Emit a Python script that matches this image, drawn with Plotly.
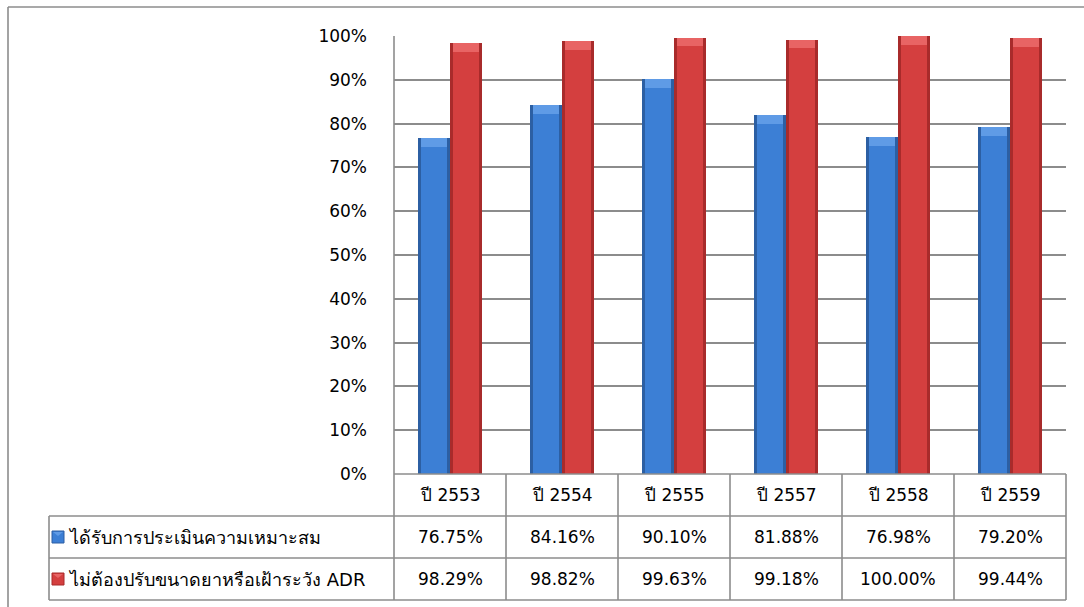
import plotly.graph_objects as go

# ---- data ----
years = ["ปี 2553", "ปี 2554", "ปี 2555", "ปี 2557", "ปี 2558", "ปี 2559"]
series_names = ["ได้รับการประเมินความเหมาะสม", "ไม่ต้องปรับขนาดยาหรือเฝ้าระวัง ADR"]
assessed = [76.75, 84.16, 90.10, 81.88, 76.98, 79.20]
no_adjust = [98.29, 98.82, 99.63, 99.18, 100.00, 99.44]
y_ticks = [0, 10, 20, 30, 40, 50, 60, 70, 80, 90, 100]

W, H = 1084, 607
FONT = "Tahoma, 'DejaVu Sans', sans-serif"
FS = 17
THAI_FS = 18
GRID = "#8c8c8c"


def px(x):
    return x / W


def py(y):
    return 1 - y / H


# plot area in pixels
PL, PR, PT, PB = 394, 1066, 36, 474
# table rows in pixels
ROW1_B, ROW2_B, ROW3_B = 516, 558, 600
TABLE_L = 49

x_idx = list(range(len(years)))
BW = 0.288          # bar width in category units
INSET = 0.026       # edge shading inset

styles = [
    # (offset, edge colour, body colour, cap colour)
    (-BW, "#2c5fa3", "#3c7fd5", "#5f9be6"),
    (0.0, "#a82b2b", "#d43f3f", "#e86464"),
]

fig = go.Figure()
for vals, name, (off, edge, body, cap) in zip([assessed, no_adjust], series_names, styles):
    fig.add_bar(x=x_idx, y=vals, offset=off, width=BW, marker=dict(color=edge, line=dict(width=0)),
                name=name, showlegend=False, hoverinfo="skip")
    fig.add_bar(x=x_idx, y=[v - 0.5 for v in vals], offset=off + INSET, width=BW - 2 * INSET,
                marker=dict(color=body, line=dict(width=0)), showlegend=False, hoverinfo="skip")
    fig.add_bar(x=x_idx, y=[2.0] * len(vals), base=[v - 2.0 for v in vals], offset=off + INSET,
                width=BW - 2 * INSET, marker=dict(color=cap, line=dict(width=0)),
                showlegend=False, hoverinfo="skip")

shapes = []
annotations = []


def hline(y, x0, x1):
    shapes.append(dict(type="line", xref="paper", yref="paper", x0=px(x0), x1=px(x1), y0=py(y), y1=py(y),
                       line=dict(color=GRID, width=1.6)))


def vline(x, y0, y1):
    shapes.append(dict(type="line", xref="paper", yref="paper", x0=px(x), x1=px(x), y0=py(y0), y1=py(y1),
                       line=dict(color=GRID, width=1.6)))


def label(x, y, text, anchor="center", size=FS):
    annotations.append(dict(x=px(x), y=py(y), xref="paper", yref="paper", text=text, showarrow=False,
                            xanchor=anchor, yanchor="middle",
                            font=dict(size=size, color="#000", family=FONT)))


# outer chart frame
hline(7, 8, W)
vline(8, 7, H)

# plot left edge and table grid
vline(PL, PT, ROW3_B)
vline(PR, PB, ROW3_B)
vline(TABLE_L, ROW1_B, ROW3_B)
hline(PB, PL, PR)
for yb in (ROW1_B, ROW2_B, ROW3_B):
    hline(yb, TABLE_L, PR)
cat_w = (PR - PL) / len(years)
for i in range(1, len(years)):
    vline(PL + i * cat_w, PB, ROW3_B)

# table text
row_centers = [(PB + ROW1_B) / 2, (ROW1_B + ROW2_B) / 2, (ROW2_B + ROW3_B) / 2]
for i, yr in enumerate(years):
    xc = PL + (i + 0.5) * cat_w
    label(xc, row_centers[0], yr)
    label(xc, row_centers[1], f"{assessed[i]:.2f}%")
    label(xc, row_centers[2], f"{no_adjust[i]:.2f}%")

# legend keys inside the table
for rc, name, (_, edge, body, cap) in zip(row_centers[1:], series_names, styles):
    shapes.append(dict(type="rect", xref="paper", yref="paper", x0=px(52), x1=px(64), y0=py(rc + 6),
                       y1=py(rc - 6), fillcolor=body, line=dict(color=edge, width=1)))
    shapes.append(dict(type="path", xref="paper", yref="paper",
                       path=f"M {px(53)},{py(rc - 5)} L {px(63)},{py(rc - 5)} L {px(58)},{py(rc - 1)} Z",
                       fillcolor=cap, line=dict(width=0)))
    label(66, rc, name, anchor="left", size=THAI_FS)

fig.update_layout(
    width=W, height=H, autosize=False,
    margin=dict(l=0, r=0, t=0, b=0, pad=0),
    paper_bgcolor="white", plot_bgcolor="white",
    barmode="overlay", bargap=0,
    font=dict(family=FONT, size=FS, color="#000"),
    xaxis=dict(domain=[px(PL), px(PR)], range=[-0.5, len(years) - 0.5], showticklabels=False,
               showgrid=False, zeroline=False, showline=False, fixedrange=True, automargin=False),
    yaxis=dict(domain=[py(PB), py(PT)], range=[0, 100], tickvals=y_ticks,
               ticktext=[f"{t}%" for t in y_ticks], showgrid=True, gridcolor=GRID, gridwidth=1.6,
               zeroline=False, showline=False, ticks="", ticklabelstandoff=26, automargin=False,
               tickfont=dict(size=FS, color="#000", family=FONT), fixedrange=True),
    shapes=shapes,
    annotations=annotations,
    showlegend=False,
)

fig.write_html("out.html")
